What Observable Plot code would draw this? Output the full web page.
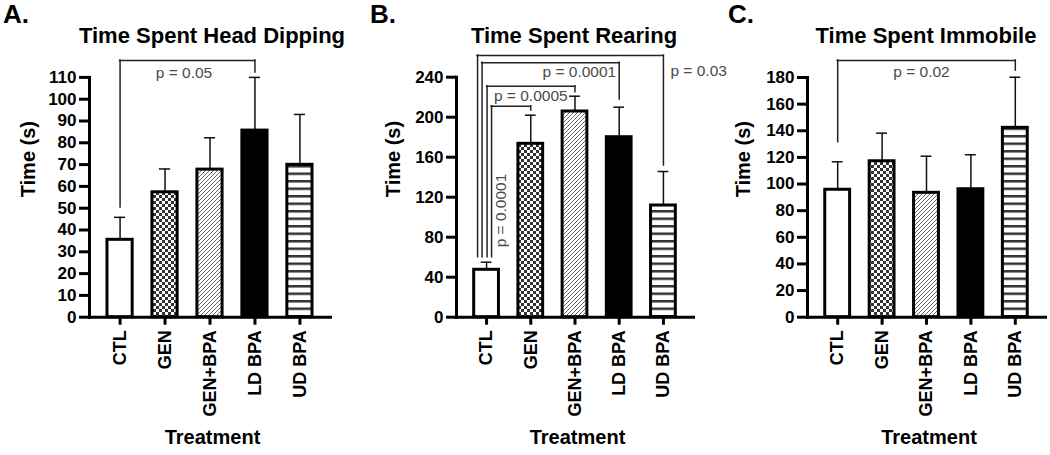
<!DOCTYPE html>
<html>
<head>
<meta charset="utf-8">
<script src="https://cdn.jsdelivr.net/npm/d3@7"></script>
<script src="https://cdn.jsdelivr.net/npm/@observablehq/plot@0.6"></script>
<style>
  html, body { margin: 0; padding: 0; background: #fff; }
  #chart { position: relative; width: 1050px; height: 455px; overflow: hidden; font-family: "Liberation Sans", Arial, sans-serif; }
  .panel { position: absolute; top: 0; width: 350px; height: 455px; }
  .letter { position: absolute; font: bold 26px/1 "Liberation Sans", Arial, sans-serif; color: #000; white-space: nowrap; }
  .title { position: absolute; width: 400px; text-align: center; font: bold 22px/1 "Liberation Sans", Arial, sans-serif; color: #000; white-space: nowrap; }
</style>
</head>
<body>
<svg width="0" height="0" style="position:absolute">
  <defs>
    <pattern id="checker" patternUnits="userSpaceOnUse" width="6" height="6">
      <rect width="6" height="6" fill="#fff"/>
      <rect x="0" y="0" width="3" height="3" fill="#333"/>
      <rect x="3" y="3" width="3" height="3" fill="#333"/>
    </pattern>
    <pattern id="hatch" patternUnits="userSpaceOnUse" width="4" height="4">
      <rect width="4" height="4" fill="#fff"/>
      <path d="M-1,1 L1,-1 M0,4 L4,0 M3,5 L5,3" stroke="#666" stroke-width="1"/>
    </pattern>
    <pattern id="hstripe" patternUnits="userSpaceOnUse" width="8" height="7.5">
      <rect width="8" height="7.5" fill="#fff"/>
      <rect x="0" y="0" width="8" height="2.5" fill="#333"/>
    </pattern>
  </defs>
</svg>
<div id="chart"></div>
<script>
// ---------- data ----------
const groups = ["CTL", "GEN", "GEN+BPA", "LD BPA", "UD BPA"];

const dipMean  = [35.5, 57.3, 67.7, 85.6, 69.9];
const dipUpper = [45.8, 68.0, 82.3, 110.0, 93.0];
const dipTicks = [0, 10, 20, 30, 40, 50, 60, 70, 80, 90, 100, 110];

const rearMean  = [47.4, 173.4, 205.7, 180.0, 111.7];
const rearUpper = [55.0, 202.0, 221.0, 210.0, 145.7];
const rearTicks = [0, 40, 80, 120, 160, 200, 240];

const immMean  = [95.7, 117.1, 93.4, 96.1, 142.2];
const immUpper = [116.7, 138.2, 120.9, 122.0, 180.2];
const immTicks = [0, 20, 40, 60, 80, 100, 120, 140, 160, 180];

const dipBrackets = [
  {from: "CTL", to: "LD BPA", top: 117.8, leftEnd: 50.3, rightEnd: 112.2}
];
const rearBrackets = [
  {from: "CTL", to: "UD BPA",  top: 261.7, leftEnd: 60, rightEnd: 151.7},
  {from: "CTL", to: "LD BPA",  top: 254.4, leftEnd: 60, rightEnd: 217.7},
  {from: "CTL", to: "GEN+BPA", top: 231.0, leftEnd: 60, rightEnd: 225.0},
  {from: "CTL", to: "GEN",     top: 211.0, leftEnd: 60, rightEnd: 206.7}
];
const immBrackets = [
  {from: "CTL", to: "UD BPA", top: 192.8, leftEnd: 131.4, rightEnd: 185.2}
];

const dipLabels  = [{text: "p = 0.05", at: "GEN+BPA", y: 112.2}];
const rearLabels = [
  {text: "p = 0.03",   at: "UD BPA", y: 245.7},
  {text: "p = 0.0001", at: "LD BPA", y: 245.0},
  {text: "p = 0.0005", at: "GEN",    y: 220.7},
  {text: "p = 0.0001", at: "CTL",    y: 106.7}
];
const immLabels = [{text: "p = 0.02", at: "GEN+BPA", y: 184.0}];

// ---------- styles ----------
const fills = {"CTL": "#fff", "GEN": "url(#checker)", "GEN+BPA": "url(#hatch)", "LD BPA": "#000", "UD BPA": "url(#hstripe)"};
const FONT = "Liberation Sans, Arial, sans-serif";
const W = 350, H = 455, MB = 138.3;
const PI = 0.44, PO = 0.4;

function panel(cfg) {
  const rows = groups.map((g, i) => ({group: g, mean: cfg.mean[i], upper: cfg.upper[i]}));
  const xs = Plot.scale({x: {type: "band", domain: groups, range: [cfg.ml, W - cfg.mr], paddingInner: PI, paddingOuter: PO, round: false}});
  const bw = xs.bandwidth;
  const bold = {fontWeight: "bold", fontFamily: FONT, fill: "#000"};
  const marks = [
    Plot.ruleX(rows, {x: "group", y1: "mean", y2: "upper", stroke: "#111", strokeWidth: 1.5}),
    Plot.tickY(rows, {x: "group", y: "upper", insetLeft: 7, insetRight: 7, stroke: "#111", strokeWidth: 1.5}),
    Plot.barY(rows, {x: "group", y: "mean", fill: (d) => fills[d.group], stroke: "#000", strokeWidth: 3}),
    Plot.frame({anchor: "left", stroke: "#000", strokeWidth: 3, strokeLinecap: "square"}),
    Plot.frame({anchor: "bottom", stroke: "#000", strokeWidth: 3, strokeLinecap: "square"}),
    Plot.axisY({ticks: cfg.ticks, tickSize: 10, strokeWidth: 3, tickFormat: () => "", label: null}),
    Plot.axisX({tickSize: 8, strokeWidth: 3, tickFormat: () => "", label: null}),
    Plot.text(cfg.ticks, {y: (d) => d, text: (d) => String(d), frameAnchor: "left", dx: -13, textAnchor: "end", lineAnchor: "middle", fontSize: 17, ...bold}),
    Plot.text(groups, {x: (d) => d, text: (d) => d, frameAnchor: "bottom", dy: 13, rotate: -90, textAnchor: "end", lineAnchor: "middle", fontSize: 18, ...bold}),
    Plot.text(["Time (s)"], {text: (d) => d, frameAnchor: "left", dx: cfg.ylabDx, rotate: -90, fontSize: 20, ...bold}),
    Plot.text(["Treatment"], {text: (d) => d, frameAnchor: "bottom", lineAnchor: "middle", dy: 120.3, dx: 2.5, fontSize: 20, ...bold})
  ];
  cfg.brackets.forEach((b, i) => {
    const off = (cfg.legOffsets && cfg.legOffsets[i]) || 0;
    const st = {stroke: "#222", strokeWidth: 1.5, strokeLinecap: "square"};
    marks.push(Plot.ruleX([b], {x: "from", y1: "leftEnd", y2: "top", dx: off, ...st}));
    marks.push(Plot.ruleX([b], {x: "to", y1: "rightEnd", y2: "top", ...st}));
    marks.push(Plot.ruleY([b], {y: "top", x1: "from", x2: "to", insetLeft: bw / 2 + off, insetRight: bw / 2, ...st}));
  });
  cfg.labels.forEach((l, i) => {
    const s = cfg.labelStyles[i];
    marks.push(Plot.text([l], {x: "at", y: "y", text: "text", fontSize: 15.5, fontWeight: "normal", fontFamily: FONT, fill: "#4a4a4a",
      dx: s.dx || 0, textAnchor: s.anchor || "middle", rotate: s.rotate || 0, lineAnchor: "middle"}));
  });
  return Plot.plot({
    width: W, height: H,
    marginLeft: cfg.ml, marginRight: cfg.mr, marginTop: cfg.mt, marginBottom: MB,
    x: {type: "band", domain: groups, paddingInner: PI, paddingOuter: PO, round: false, axis: null},
    y: {domain: [0, cfg.yMax], axis: null},
    color: {type: "identity"},
    style: {background: "transparent", overflow: "visible", fontFamily: FONT, color: "#000"},
    marks
  });
}

const panels = [
  {left: 0, letter: "A.", letterX: 3, title: "Time Spent Head Dipping", titleCx: 212,
   ml: 89, mr: 20, mt: 76.9, yMax: 110, ticks: dipTicks, mean: dipMean, upper: dipUpper,
   brackets: dipBrackets, labels: dipLabels, ylabDx: -61,
   labelStyles: [{dx: -26}]},
  {left: 350, letter: "B.", letterX: 20, title: "Time Spent Rearing", titleCx: 224,
   ml: 106, mr: 7, mt: 76.7, yMax: 240, ticks: rearTicks, mean: rearMean, upper: rearUpper,
   brackets: rearBrackets, labels: rearLabels, ylabDx: -63, legOffsets: [-9, -4.5, 0.5, 5],
   labelStyles: [{dx: 7, anchor: "start"}, {dx: -3, anchor: "end"}, {dx: 0}, {dx: 14, rotate: -90}]},
  {left: 700, letter: "C.", letterX: 28, title: "Time Spent Immobile", titleCx: 226,
   ml: 107, mr: 5, mt: 77, yMax: 180, ticks: immTicks, mean: immMean, upper: immUpper,
   brackets: immBrackets, labels: immLabels, ylabDx: -64,
   labelStyles: [{dx: -5}]}
];

const root = document.getElementById("chart");
for (const p of panels) {
  const div = document.createElement("div");
  div.className = "panel";
  div.style.left = p.left + "px";
  div.appendChild(panel(p));
  const letter = document.createElement("div");
  letter.className = "letter";
  letter.style.left = p.letterX + "px";
  letter.style.top = "1px";
  letter.textContent = p.letter;
  div.appendChild(letter);
  const title = document.createElement("div");
  title.className = "title";
  title.style.left = (p.titleCx - 200) + "px";
  title.style.top = "24.7px";
  title.textContent = p.title;
  div.appendChild(title);
  root.appendChild(div);
}
</script>
</body>
</html>
